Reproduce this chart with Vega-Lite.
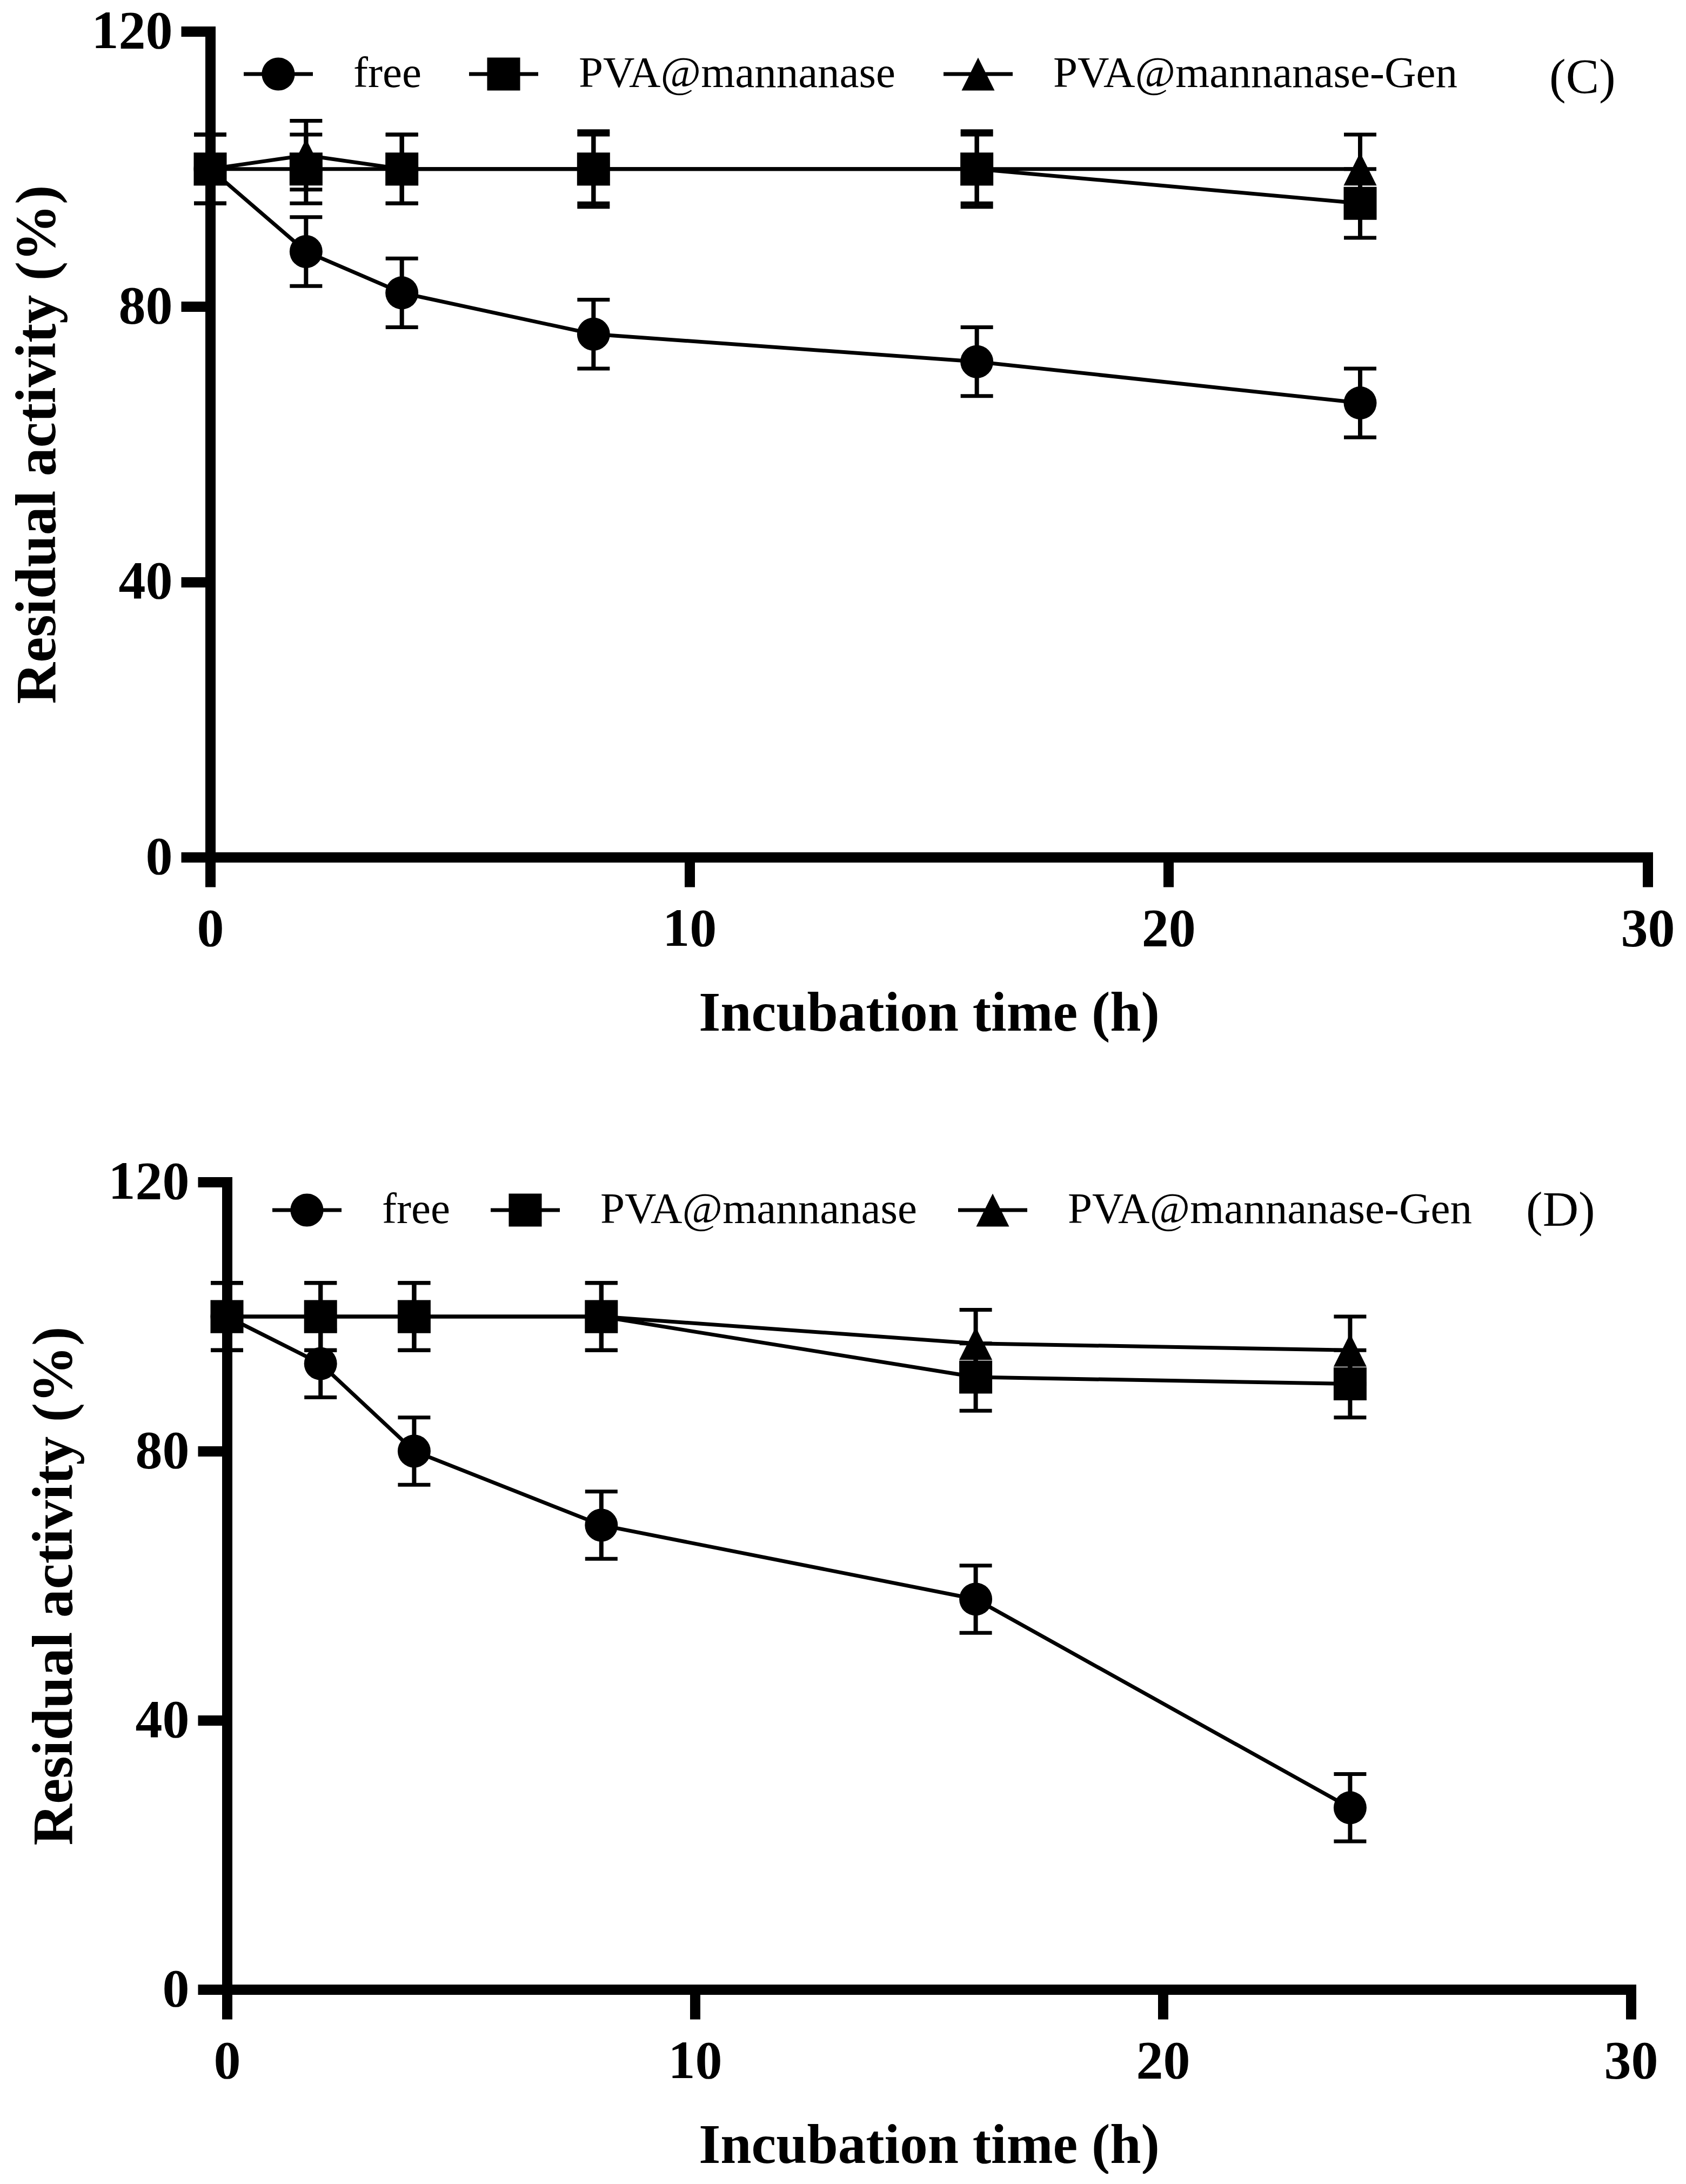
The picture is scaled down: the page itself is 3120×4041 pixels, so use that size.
{
  "$schema": "https://vega.github.io/schema/vega-lite/v6.json",
  "background": "white",
  "padding": {"left": 16, "top": 8, "right": 0, "bottom": 0},
  "config": {
    "view": {"stroke": null},
    "font": "Liberation Serif",
    "axis": {
      "grid": false, "labelFlush": false,
      "domainColor": "black", "domainWidth": 19, "domainCap": "square",
      "tickColor": "black", "tickWidth": 19, "tickSize": 54,
      "labelFont": "Liberation Serif", "labelFontSize": 100, "labelFontWeight": "bold", "labelColor": "black",
      "titleFont": "Liberation Serif", "titleFontSize": 103, "titleFontWeight": "bold", "titleColor": "black"
    },
    "axisX": {"labelPadding": 29, "titlePadding": 56},
    "axisY": {"labelPadding": 16, "titlePadding": 66, "titleFontSize": 106},
    "legend": {
      "orient": "none", "direction": "horizontal", "padding": 0, "offset": 0,
      "labelFont": "Liberation Serif", "labelFontSize": 81, "labelFontWeight": "normal", "labelColor": "black",
      "labelOffset": 75, "columnPadding": 75, "labelLimit": 0,
      "symbolSize": 16384, "symbolStrokeWidth": 0, "symbolFillColor": "black",
      "titleFont": "Liberation Serif", "titleFontSize": 92, "titleFontWeight": "normal", "titleColor": "black",
      "titleOrient": "right", "titleBaseline": "line-top", "titleAnchor": "middle", "titleLimit": 0
    }
  },
  "datasets": {
    "c": [
      {"series": "free", "time": 0, "activity": 100, "sd": 5},
      {"series": "free", "time": 2, "activity": 88, "sd": 5},
      {"series": "free", "time": 4, "activity": 82, "sd": 5},
      {"series": "free", "time": 8, "activity": 76, "sd": 5},
      {"series": "free", "time": 16, "activity": 72, "sd": 5},
      {"series": "free", "time": 24, "activity": 66, "sd": 5},
      {"series": "PVA@mannanase", "time": 0, "activity": 100, "sd": 5},
      {"series": "PVA@mannanase", "time": 2, "activity": 100, "sd": 5},
      {"series": "PVA@mannanase", "time": 4, "activity": 100, "sd": 5},
      {"series": "PVA@mannanase", "time": 8, "activity": 100, "sd": 5.5},
      {"series": "PVA@mannanase", "time": 16, "activity": 100, "sd": 5.5},
      {"series": "PVA@mannanase", "time": 24, "activity": 95, "sd": 5},
      {"series": "PVA@mannanase-Gen", "time": 0, "activity": 100, "sd": 5},
      {"series": "PVA@mannanase-Gen", "time": 2, "activity": 102, "sd": 5},
      {"series": "PVA@mannanase-Gen", "time": 4, "activity": 100, "sd": 5},
      {"series": "PVA@mannanase-Gen", "time": 8, "activity": 100, "sd": 5},
      {"series": "PVA@mannanase-Gen", "time": 16, "activity": 100, "sd": 5},
      {"series": "PVA@mannanase-Gen", "time": 24, "activity": 100, "sd": 5}
    ],
    "d": [
      {"series": "free", "time": 0, "activity": 100, "sd": 5},
      {"series": "free", "time": 2, "activity": 93, "sd": 5},
      {"series": "free", "time": 4, "activity": 80, "sd": 5},
      {"series": "free", "time": 8, "activity": 69, "sd": 5},
      {"series": "free", "time": 16, "activity": 58, "sd": 5},
      {"series": "free", "time": 24, "activity": 27, "sd": 5},
      {"series": "PVA@mannanase", "time": 0, "activity": 100, "sd": 5},
      {"series": "PVA@mannanase", "time": 2, "activity": 100, "sd": 5},
      {"series": "PVA@mannanase", "time": 4, "activity": 100, "sd": 5},
      {"series": "PVA@mannanase", "time": 8, "activity": 100, "sd": 5},
      {"series": "PVA@mannanase", "time": 16, "activity": 91, "sd": 5},
      {"series": "PVA@mannanase", "time": 24, "activity": 90, "sd": 5},
      {"series": "PVA@mannanase-Gen", "time": 0, "activity": 100, "sd": 5},
      {"series": "PVA@mannanase-Gen", "time": 2, "activity": 100, "sd": 5},
      {"series": "PVA@mannanase-Gen", "time": 4, "activity": 100, "sd": 5},
      {"series": "PVA@mannanase-Gen", "time": 8, "activity": 100, "sd": 5},
      {"series": "PVA@mannanase-Gen", "time": 16, "activity": 96, "sd": 5},
      {"series": "PVA@mannanase-Gen", "time": 24, "activity": 95, "sd": 5}
    ]
  },
  "align": "all",
  "center": true,
  "spacing": 210,
  "vconcat": [
    {
      "width": 2660,
      "height": 1528,
      "data": {"name": "c"},
      "encoding": {
        "x": {"field": "time", "type": "quantitative", "scale": {"domain": [0, 30], "nice": false},
              "axis": {"values": [0, 10, 20, 30], "title": "Incubation time (h)", "tickSize": 55}},
        "y": {"field": "activity", "type": "quantitative", "scale": {"domain": [0, 120], "nice": false},
              "axis": {"values": [0, 40, 80, 120], "title": "Residual activity (%)"}}
      },
      "layer": [
        {
          "mark": {"type": "errorbar", "color": "black",
                   "rule": {"strokeWidth": 8, "color": "black", "opacity": 1},
                   "ticks": {"size": 60, "thickness": 7, "color": "black", "opacity": 1}},
          "encoding": {"yError": {"field": "sd"}}
        },
        {
          "mark": {"type": "line", "color": "black", "strokeWidth": 7},
          "encoding": {"detail": {"field": "series", "type": "nominal"}}
        },
        {
          "mark": {"type": "point", "filled": true, "color": "black", "opacity": 1, "size": 3721},
          "encoding": {
            "shape": {"field": "series", "type": "nominal",
                      "scale": {"domain": ["free", "PVA@mannanase", "PVA@mannanase-Gen"],
                                "range": ["circle", "square", "M0,-1L1,1L-1,1Z"]},
                      "legend": null}
          }
        },
        {
          "mark": {"type": "point", "filled": true, "color": "black", "opacity": 0},
          "encoding": {
            "shape": {"field": "series", "type": "nominal",
                      "scale": {"domain": ["free", "PVA@mannanase", "PVA@mannanase-Gen"],
                                "range": [
                                  "M-1,-0.055H1V0.055H-1ZM0.477,0A0.477,0.477,0,1,1,-0.477,0A0.477,0.477,0,1,1,0.477,0Z",
                                  "M-1,-0.055H1V0.055H-1ZM-0.477,-0.477H0.477V0.477H-0.477Z",
                                  "M-1,-0.055H1V0.055H-1ZM0,-0.477L0.477,0.477L-0.477,0.477Z"
                                ]},
                      "legend": {"title": "(C)", "legendX": 62, "legendY": 15, "columnPadding": 88,
                                 "titlePadding": 170, "titleLineHeight": 40}}
          }
        }
      ],
      "resolve": {"scale": {"shape": "independent"}}
    },
    {
      "width": 2598,
      "height": 1494,
      "data": {"name": "d"},
      "encoding": {
        "x": {"field": "time", "type": "quantitative", "scale": {"domain": [0, 30], "nice": false},
              "axis": {"values": [0, 10, 20, 30], "title": "Incubation time (h)", "tickSize": 55}},
        "y": {"field": "activity", "type": "quantitative", "scale": {"domain": [0, 120], "nice": false},
              "axis": {"values": [0, 40, 80, 120], "title": "Residual activity (%)"}}
      },
      "layer": [
        {
          "mark": {"type": "errorbar", "color": "black",
                   "rule": {"strokeWidth": 8, "color": "black", "opacity": 1},
                   "ticks": {"size": 60, "thickness": 7, "color": "black", "opacity": 1}},
          "encoding": {"yError": {"field": "sd"}}
        },
        {
          "mark": {"type": "line", "color": "black", "strokeWidth": 7},
          "encoding": {"detail": {"field": "series", "type": "nominal"}}
        },
        {
          "mark": {"type": "point", "filled": true, "color": "black", "opacity": 1, "size": 3721},
          "encoding": {
            "shape": {"field": "series", "type": "nominal",
                      "scale": {"domain": ["free", "PVA@mannanase", "PVA@mannanase-Gen"],
                                "range": ["circle", "square", "M0,-1L1,1L-1,1Z"]},
                      "legend": null}
          }
        },
        {
          "mark": {"type": "point", "filled": true, "color": "black", "opacity": 0},
          "encoding": {
            "shape": {"field": "series", "type": "nominal",
                      "scale": {"domain": ["free", "PVA@mannanase", "PVA@mannanase-Gen"],
                                "range": [
                                  "M-1,-0.055H1V0.055H-1ZM0.477,0A0.477,0.477,0,1,1,-0.477,0A0.477,0.477,0,1,1,0.477,0Z",
                                  "M-1,-0.055H1V0.055H-1ZM-0.477,-0.477H0.477V0.477H-0.477Z",
                                  "M-1,-0.055H1V0.055H-1ZM0,-0.477L0.477,0.477L-0.477,0.477Z"
                                ]},
                      "legend": {"title": "(D)", "legendX": 84, "legendY": -12, "titlePadding": 100, "titleLineHeight": 28}}
          }
        }
      ],
      "resolve": {"scale": {"shape": "independent"}}
    }
  ]
}
